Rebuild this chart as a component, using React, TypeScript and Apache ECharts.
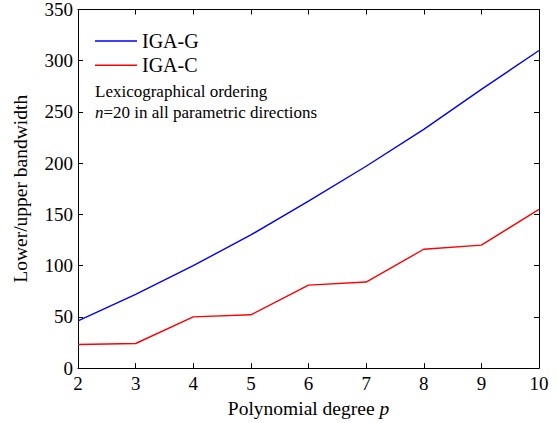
import React, { useEffect, useRef } from "react";
import * as echarts from "echarts";

const degrees = [2, 3, 4, 5, 6, 7, 8, 9, 10];
const igaG = [46, 72, 100, 130, 163, 197, 233, 272, 310];
const igaC = [23, 24, 50, 52, 81, 84, 116, 120, 155];
const seriesNames = ["IGA-G", "IGA-C"];
const seriesColors = ["#0000ff", "#ff0000"];
const FONT = "Liberation Serif";

export default function App() {
  const ref = useRef<HTMLDivElement>(null);
  useEffect(() => {
    if (!ref.current) return;
    const chart = echarts.init(ref.current, undefined, { renderer: "svg" });
    const axisCommon = {
      type: "value" as const,
      axisLine: { show: true, onZero: false, lineStyle: { color: "#000", width: 1 } },
      axisTick: { show: true, inside: true, length: 5, lineStyle: { color: "#000" } },
      splitLine: { show: false },
    };
    chart.setOption({
      animation: false,
      backgroundColor: "#fff",
      textStyle: { fontFamily: FONT },
      grid: { left: 78, right: 18, top: 9, bottom: 50, containLabel: false },
      legend: {
        orient: "vertical",
        left: 95,
        top: 31,
        padding: 0,
        icon: "rect",
        itemWidth: 42,
        itemHeight: 1.5,
        itemGap: 4.3,
        data: seriesNames,
        textStyle: { fontFamily: FONT, fontSize: 20, color: "#000", lineHeight: 20, padding: [0, 0, 0, 0] },
      },
      xAxis: [
        {
          ...axisCommon,
          position: "bottom",
          min: 2,
          max: 10,
          interval: 1,
          axisLabel: { color: "#000", fontSize: 19, fontFamily: FONT, margin: 6 },
          name: "{a|Polynomial degree }{i|p}",
          nameLocation: "middle",
          nameGap: 27,
          nameTextStyle: {
            fontFamily: FONT,
            rich: {
              a: { fontSize: 19.5, fontFamily: FONT, color: "#000" },
              i: { fontSize: 19.5, fontFamily: FONT, color: "#000", fontStyle: "italic" },
            },
          },
        },
        {
          ...axisCommon,
          position: "top",
          min: 2,
          max: 10,
          interval: 1,
          axisLabel: { show: false },
        },
      ],
      yAxis: [
        {
          ...axisCommon,
          position: "left",
          min: 0,
          max: 350,
          interval: 50,
          axisLabel: { color: "#000", fontSize: 19, fontFamily: FONT, margin: 5 },
          name: "Lower/upper bandwidth",
          nameLocation: "middle",
          nameGap: 48,
          nameTextStyle: { fontSize: 19.5, fontFamily: FONT, color: "#000" },
        },
        {
          ...axisCommon,
          position: "right",
          min: 0,
          max: 350,
          interval: 50,
          axisLabel: { show: false },
        },
      ],
      series: [
        {
          name: seriesNames[0],
          type: "line",
          data: degrees.map((d, i) => [d, igaG[i]]),
          symbol: "none",
          lineStyle: { color: seriesColors[0], width: 1.4 },
          itemStyle: { color: seriesColors[0] },
        },
        {
          name: seriesNames[1],
          type: "line",
          data: degrees.map((d, i) => [d, igaC[i]]),
          symbol: "none",
          lineStyle: { color: seriesColors[1], width: 1.4 },
          itemStyle: { color: seriesColors[1] },
        },
      ],
      graphic: [
        {
          type: "text",
          left: 95,
          top: 83,
          style: {
            text: "{a|Lexicographical ordering}\n{i|n}{a|=20 in all parametric directions}",
            fontFamily: FONT,
            rich: {
              a: { fontSize: 17, fontFamily: FONT, fill: "#000", lineHeight: 21 },
              i: { fontSize: 17, fontFamily: FONT, fill: "#000", fontStyle: "italic", lineHeight: 21 },
            },
          },
        },
      ],
    });
    return () => chart.dispose();
  }, []);
  return (
    <div
      ref={ref}
      style={{ position: "absolute", left: 0, top: 0, width: 557, height: 423 }}
    />
  );
}
